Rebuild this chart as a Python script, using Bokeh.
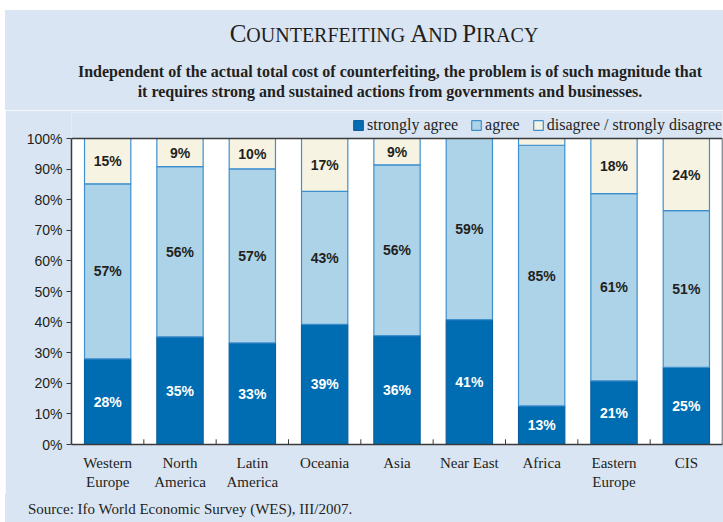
from bokeh.plotting import figure
from bokeh.layouts import column
from bokeh.models import (Range1d, FactorRange, FixedTicker, PrintfTickFormatter,
                          Legend, LegendItem, ColumnDataSource, Div)
from bokeh.embed import file_html
from bokeh.resources import INLINE
from bokeh.core.properties import value

# ---------------- data ----------------
regions = ["Western\nEurope", "North\nAmerica", "Latin\nAmerica", "Oceania", "Asia",
           "Near East", "Africa", "Eastern\nEurope", "CIS"]
strongly_agree = [28.0, 35.2, 33.2, 39.3, 35.6, 40.8, 12.6, 20.8, 25.2]
agree = [57.2, 55.6, 56.9, 43.4, 55.8, 59.2, 85.2, 61.2, 51.2]
disagree = [14.8, 9.2, 9.9, 17.3, 8.6, 0.0, 2.2, 18.0, 23.6]
series_names = ["strongly agree", "agree", "disagree / strongly disagree"]
y_ticks = [0, 10, 20, 30, 40, 50, 60, 70, 80, 90, 100]

title_text = "Counterfeiting And Piracy"
subtitle_lines = ["Independent of the actual total cost of counterfeiting, the problem is of such magnitude that",
                  "it requires strong and sustained actions from governments and businesses."]
source_text = "Source: Ifo World Economic Survey (WES), III/2007."

# ---------------- style ----------------
C_SA = "#006db3"
C_AG = "#acd3e8"
C_DI = "#f6f3e3"
BG = "#dae5f3"
TXT = "#231f20"
AX = "#3a3a3a"

TOTAL_W = 718
HEAD_H = 100
FOOT_H = 28
ML, MR, MT, MB = 66, 1, 2, 50
FRAME_H = 332                      # includes a strip above 100% for the legend
PX_PER_UNIT = 306 / 100.0          # plot area 0..100 is 306 px tall
Y_TOP = y_ticks[-1] + (FRAME_H - 306) / PX_PER_UNIT
FIG_H = MT + FRAME_H + MB

src = ColumnDataSource(dict(region=regions, sa=strongly_agree, ag=agree, di=disagree))

p = figure(width=TOTAL_W, height=FIG_H, output_backend="svg", toolbar_location=None,
           x_range=FactorRange(factors=regions, range_padding=0),
           y_range=Range1d(0, Y_TOP),
           min_border_left=ML, min_border_right=MR, min_border_top=MT, min_border_bottom=MB)
p.border_fill_color = BG
p.background_fill_color = BG
p.outline_line_color = None
p.xgrid.visible = False
p.ygrid.visible = False

n = len(regions)
ymax = y_ticks[-1]
# white plot area
p.quad(left=[0], right=[n], bottom=[0], top=[ymax], fill_color="white", line_color=None)

rs = p.vbar_stack(["sa", "ag", "di"], x="region", width=0.64, source=src,
                  fill_color=[C_SA, C_AG, C_DI],
                  line_color=["#0a5f9e", "#3d8fce", "#3d8fce"], line_width=1.2)

# plot-area border (top and right)
p.segment(x0=[0, n], y0=[ymax, 0], x1=[n, n], y1=[ymax, ymax], line_color=AX, line_width=1.5)

# bar value labels (segment middles)
lx, ly, lt, lc = [], [], [], []
for i, r in enumerate(regions):
    base = 0.0
    for v, col in zip((strongly_agree[i], agree[i], disagree[i]), ("white", TXT, TXT)):
        if v >= 5:
            lx.append(r)
            ly.append(base + v / 2)
            lt.append(f"{round(v)}%")
            lc.append(col)
        base += v
p.text(x=lx, y=ly, text=lt, text_color=lc, text_font=value("Liberation Sans"),
       text_font_style="bold", text_font_size="14px", text_align="center",
       text_baseline="middle")

# category boundary ticks
bounds = list(range(1, n))
p.segment(x0=bounds, y0=[0] * len(bounds), x1=bounds, y1=[1.7] * len(bounds),
          line_color=AX, line_width=1)

# axes
ya = p.yaxis[0]
ya.ticker = FixedTicker(ticks=y_ticks)
ya.formatter = PrintfTickFormatter(format="%d%%")
ya.bounds = (0, ymax)
ya.major_tick_out = 5
ya.major_tick_in = 0
ya.minor_tick_out = 0
ya.minor_tick_in = 0
ya.major_label_text_font = "Liberation Sans"
ya.major_label_text_font_size = "14px"
ya.major_label_text_color = TXT
ya.major_label_standoff = 4
ya.axis_line_color = AX
ya.axis_line_width = 1.5
ya.major_tick_line_color = AX

xa = p.xaxis[0]
xa.major_tick_out = 0
xa.major_tick_in = 0
xa.major_label_text_font = "Liberation Serif"
xa.major_label_text_font_size = "15px"
xa.major_label_text_color = TXT
xa.major_label_standoff = 10
xa.axis_line_color = AX
xa.axis_line_width = 1.5

# legend in the strip above the plot area
legend = Legend(items=[LegendItem(label=s, renderers=[r]) for s, r in zip(series_names, rs)],
                orientation="horizontal", location=(281, 306 + 4),
                border_line_color=None, background_fill_alpha=0,
                label_text_font="Liberation Serif", label_text_font_size="16px",
                label_text_color=TXT, glyph_width=12, glyph_height=12,
                label_standoff=3, spacing=12, padding=0, margin=0)
p.add_layout(legend, "center")

# ---------------- header / footer ----------------
BIG, SMALL = 25, 20
parts = []
for k, word in enumerate(title_text.split(" ")):
    if k > 0:
        parts.append(f'<span style="font-size:{SMALL}px"> </span>')
    parts.append(f'<span style="font-size:{BIG}px">{word[0].upper()}</span>')
    parts.append(f'<span style="font-size:{SMALL}px">{word[1:].upper()}</span>')
title_html = "".join(parts)

font_serif = "font-family:'Liberation Serif',serif;color:%s;" % TXT
header_html = (
    f'<div style="position:relative;width:{TOTAL_W}px;height:{HEAD_H}px;background:{BG};overflow:hidden;">'
    f'<div style="position:absolute;left:40px;top:11px;width:678px;text-align:center;'
    f'line-height:25px;white-space:nowrap;{font_serif}">{title_html}</div>'
    f'<div style="position:absolute;left:52px;top:52px;width:666px;text-align:center;'
    f'line-height:19.5px;white-space:nowrap;font-weight:bold;font-size:16px;{font_serif}">'
    f'{subtitle_lines[0]}<br>{subtitle_lines[1]}</div>'
    f'</div>'
)
footer_html = (
    f'<div style="position:relative;width:{TOTAL_W}px;height:{FOOT_H}px;background:{BG};overflow:hidden;">'
    f'<div style="position:absolute;left:23px;top:8px;white-space:nowrap;font-size:15px;'
    f'line-height:15px;{font_serif}">{source_text}</div>'
    f'</div>'
)
header = Div(text=header_html, width=TOTAL_W, height=HEAD_H, margin=(0, 0, 0, 0),
             styles={"background-color": BG})
footer = Div(text=footer_html, width=TOTAL_W, height=FOOT_H, margin=(0, 0, 0, 0),
             styles={"background-color": BG})

layout = column(header, p, footer, spacing=0, margin=(10, 0, 0, 5))

open("out.html", "w").write(file_html(layout, INLINE))
